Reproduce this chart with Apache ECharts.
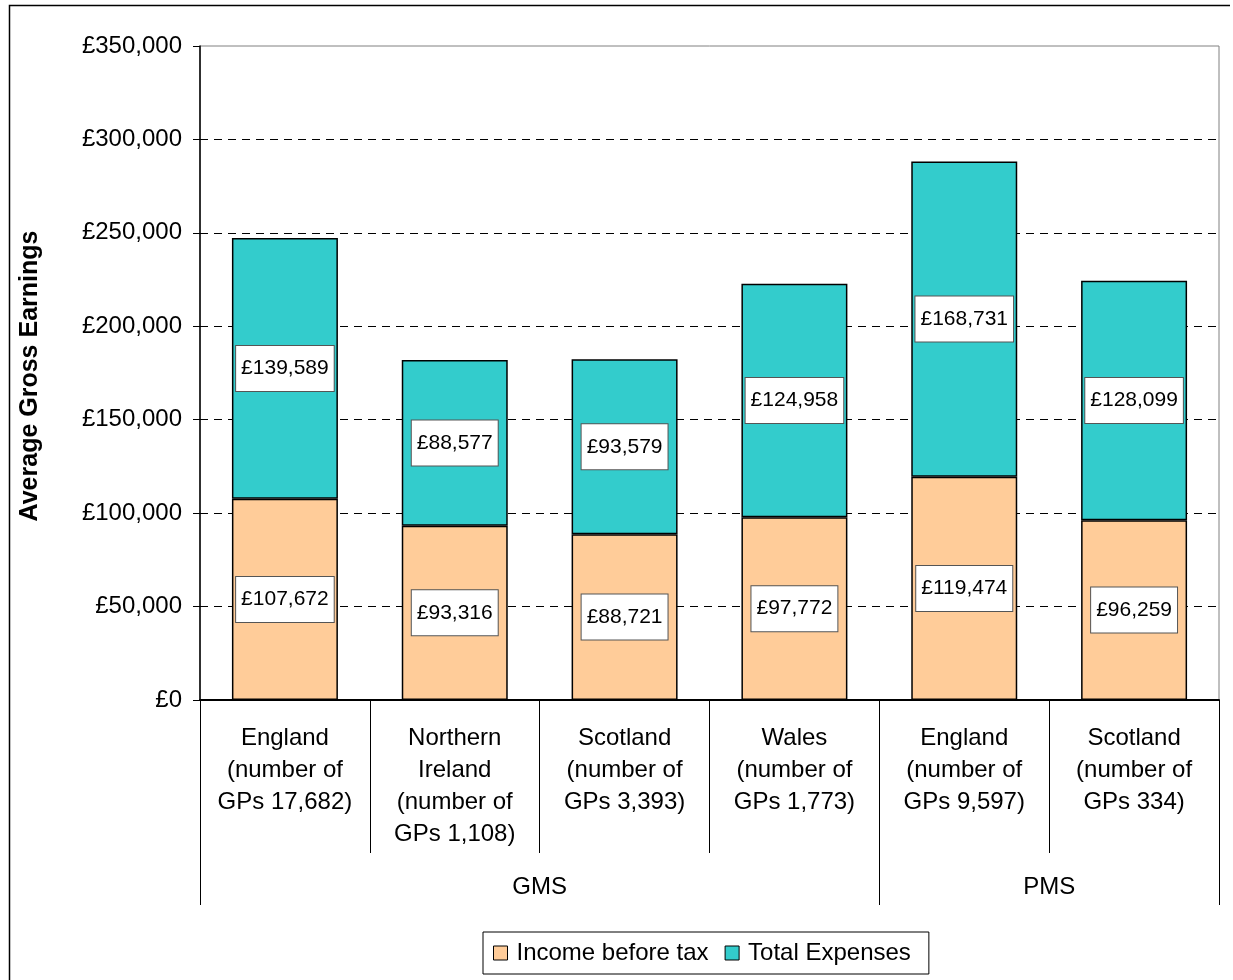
<!DOCTYPE html>
<html>
<head>
<meta charset="utf-8">
<title>Average Gross Earnings of GPs</title>
<script src="https://cdn.jsdelivr.net/npm/echarts@6/dist/echarts.min.js"></script>
<style>
  html, body { margin: 0; padding: 0; background: #fff; }
  #chart { width: 1233px; height: 980px; }
</style>
</head>
<body>
<div id="chart"></div>
<script>
// Categories (one per practice type / country) and their grouping
const categories = [
  'England\n(number of\nGPs 17,682)',
  'Northern\nIreland\n(number of\nGPs 1,108)',
  'Scotland\n(number of\nGPs 3,393)',
  'Wales\n(number of\nGPs 1,773)',
  'England\n(number of\nGPs 9,597)',
  'Scotland\n(number of\nGPs 334)'
];
const groupNames = ['GMS', 'PMS'];
const groupSpans = [4, 2];

// Series values (£)
const incomeBeforeTax = [107672, 93316, 88721, 97772, 119474, 96259];
const totalExpenses = [139589, 88577, 93579, 124958, 168731, 128099];

// Value axis range
const yMin = 0;
const yMax = 350000;
const yStep = 50000;

const FONT = '"Liberation Sans", Arial, sans-serif';
const money = v => '£' + Number(v).toLocaleString('en-GB');

// Group boundaries and centres on a 0..N scale (one unit per category)
const groupEdges = [0];
groupSpans.forEach(s => groupEdges.push(groupEdges[groupEdges.length - 1] + s));
const groupCentres = groupSpans.map((s, i) => groupEdges[i] + s / 2);

const labelStyle = {
  show: true,
  position: 'inside',
  formatter: p => money(p.value),
  color: '#000',
  fontFamily: FONT,
  fontSize: 21,
  lineHeight: 25,
  backgroundColor: '#fff',
  borderColor: '#555',
  borderWidth: 1,
  padding: [10, 5, 10, 5]
};

const chart = echarts.init(document.getElementById('chart'), null, { renderer: 'canvas' });

chart.setOption({
  backgroundColor: '#fff',
  animation: false,
  textStyle: { fontFamily: FONT },
  graphic: [{
    // page frame (left and top edges)
    type: 'polyline',
    shape: { points: [[9.5, 990], [9.5, 5.5], [1230, 5.5]] },
    style: { fill: null, stroke: '#000', lineWidth: 1.5 },
    silent: true,
    z: -10
  }],
  grid: {
    left: 200, right: 14, top: 46, bottom: 280,
    containLabel: false,
    outerBoundsMode: 'none',
    show: true,
    borderColor: '#808080',
    borderWidth: 1
  },
  legend: {
    left: 483,
    top: 932,
    orient: 'horizontal',
    icon: 'rect',
    itemWidth: 14,
    itemHeight: 14,
    itemGap: 16,
    padding: [8, 18, 8, 10],
    borderColor: '#000',
    borderWidth: 1,
    backgroundColor: '#fff',
    itemStyle: { borderColor: '#000', borderWidth: 1 },
    textStyle: { fontFamily: FONT, fontSize: 24, color: '#000', lineHeight: 26, padding: [0, 0, 0, 4] },
    data: ['Income before tax', 'Total Expenses']
  },
  xAxis: [{
    type: 'category',
    data: categories,
    position: 'bottom',
    axisLine: { show: true, lineStyle: { color: '#000', width: 2 } },
    axisTick: { show: true, alignWithLabel: false, interval: 0, length: 153, lineStyle: { color: '#000', width: 1 } },
    axisLabel: {
      interval: 0,
      margin: 22,
      color: '#000',
      fontFamily: FONT,
      fontSize: 24,
      lineHeight: 32,
      align: 'center'
    },
    splitLine: { show: false }
  }, {
    type: 'value',
    min: 0,
    max: groupEdges[groupEdges.length - 1],
    interval: 1,
    position: 'bottom',
    axisLine: { show: false },
    axisTick: { show: true, customValues: groupEdges, length: 205, inside: false, lineStyle: { color: '#000', width: 1 } },
    axisLabel: {
      customValues: groupCentres,
      margin: 175,
      color: '#000',
      fontFamily: FONT,
      fontSize: 24,
      formatter: v => {
        const i = groupCentres.indexOf(v);
        return i >= 0 ? groupNames[i] : '';
      }
    },
    splitLine: { show: false }
  }],
  yAxis: {
    type: 'value',
    min: yMin,
    max: yMax,
    interval: yStep,
    name: 'Average Gross Earnings',
    nameLocation: 'middle',
    nameGap: 157,
    nameRotate: 90,
    nameTextStyle: { fontFamily: FONT, fontSize: 25, fontWeight: 'bold', color: '#000', padding: [0, 6, 0, 0] },
    axisLine: { show: true, lineStyle: { color: '#000', width: 1.5 } },
    axisTick: { show: true, length: 7, lineStyle: { color: '#000' } },
    axisLabel: { formatter: money, color: '#000', fontFamily: FONT, fontSize: 24, margin: 18 },
    splitLine: {
      show: true,
      showMinLine: false,
      showMaxLine: false,
      lineStyle: { color: '#000', width: 1, type: [8, 6] }
    }
  },
  series: [{
    name: 'Income before tax',
    type: 'bar',
    stack: 'total',
    barWidth: '62.4%',
    data: incomeBeforeTax,
    itemStyle: { color: '#FFCC99', borderColor: '#000', borderWidth: 1.5 },
    label: labelStyle,
    xAxisIndex: 0
  }, {
    name: 'Total Expenses',
    type: 'bar',
    stack: 'total',
    barWidth: '62.4%',
    data: totalExpenses,
    itemStyle: { color: '#33CCCC', borderColor: '#000', borderWidth: 1.5 },
    label: labelStyle,
    xAxisIndex: 0
  }]
});
</script>
</body>
</html>
